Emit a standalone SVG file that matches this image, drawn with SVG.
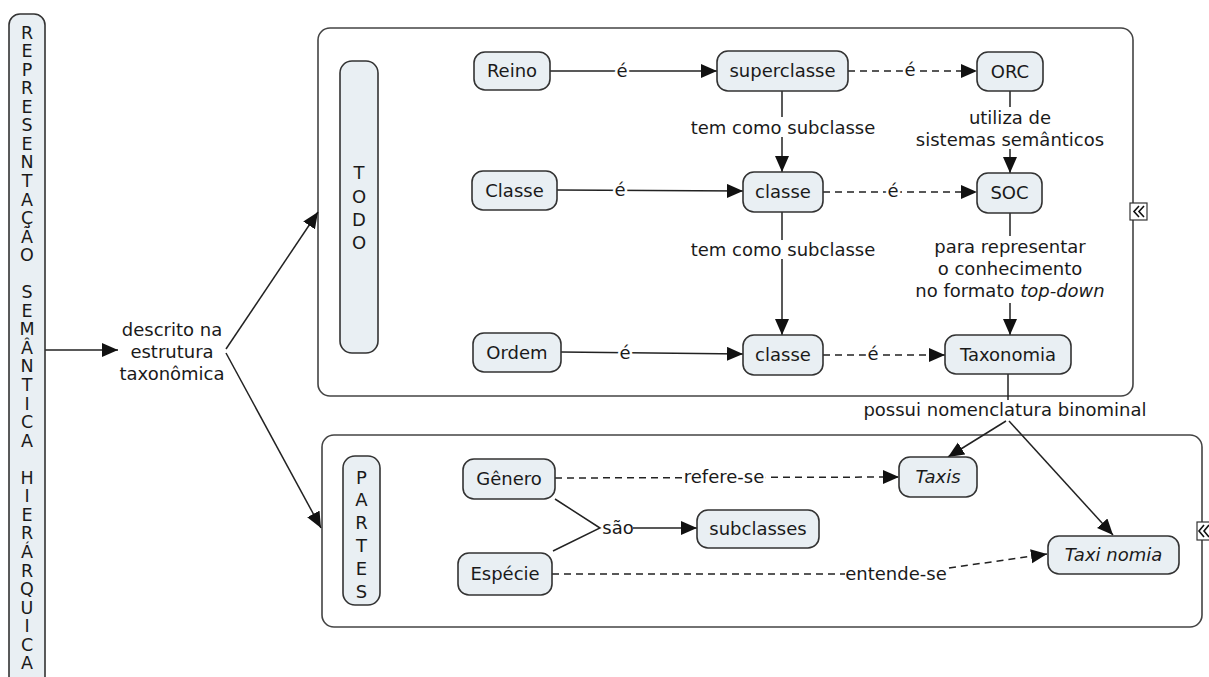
<svg xmlns="http://www.w3.org/2000/svg" width="1209" height="677" viewBox="0 0 1209 677">
<defs>
<style>
text{font-family:"DejaVu Sans","Verdana",sans-serif;font-size:18px;fill:#1a1a1a;}
.c{text-anchor:middle;}
.it{font-style:italic;}
.node{fill:#e9eff3;stroke:#333;stroke-width:1.6;}
.cont{fill:#fff;stroke:#444;stroke-width:1.6;}
.ln{fill:none;stroke:#222;stroke-width:1.5;}
.ds{fill:none;stroke:#222;stroke-width:1.5;stroke-dasharray:7 5;}
.lbl{paint-order:stroke;stroke:#fff;stroke-width:5px;stroke-linejoin:round;}
.vl{font-size:17.5px;}
</style>
<marker id="ar" markerUnits="userSpaceOnUse" markerWidth="17" markerHeight="15" refX="16" refY="7" orient="auto">
<path d="M0,0 L16,7 L0,14 z" fill="#111"/>
</marker>
</defs>
<rect width="1209" height="677" fill="#fff"/>

<g id="containers">
<g id="todo-box"><rect class="cont" x="318" y="28" width="815" height="368" rx="12"/></g>
<g id="partes-box"><rect class="cont" x="322" y="435" width="880" height="192" rx="12"/></g>
<g id="icons">
<rect x="1130" y="203" width="17" height="17" fill="#fff" stroke="#333" stroke-width="1.2"/>
<polyline points="1139,206 1134,211.5 1139,217" fill="none" stroke="#111" stroke-width="1.6"/>
<polyline points="1144,206 1139,211.5 1144,217" fill="none" stroke="#111" stroke-width="1.6"/>
<rect x="1197" y="522" width="16" height="18" fill="#fff" stroke="#333" stroke-width="1.2"/>
<polyline points="1204,525 1199,531 1204,537" fill="none" stroke="#111" stroke-width="1.6"/>
<polyline points="1209,525 1204,531 1209,537" fill="none" stroke="#111" stroke-width="1.6"/>
</g>
</g>

<g id="connectors">
<line class="ln" x1="45" y1="350" x2="118" y2="350" marker-end="url(#ar)"/>
<line class="ln" x1="226" y1="349" x2="318" y2="212" marker-end="url(#ar)"/>
<line class="ln" x1="226" y1="353" x2="321" y2="528" marker-end="url(#ar)"/>

<line class="ln" x1="550" y1="71" x2="717" y2="71" marker-end="url(#ar)"/>
<text class="c lbl" x="622" y="77">é</text>
<line class="ln" x1="557" y1="190" x2="743" y2="191" marker-end="url(#ar)"/>
<text class="c lbl" x="620" y="196">é</text>
<line class="ln" x1="561" y1="352" x2="743" y2="354" marker-end="url(#ar)"/>
<text class="c lbl" x="625" y="359">é</text>

<line class="ds" x1="848" y1="71" x2="977" y2="71" marker-end="url(#ar)"/>
<text class="c lbl" x="910" y="76">é</text>
<line class="ds" x1="823" y1="192" x2="977" y2="192" marker-end="url(#ar)"/>
<text class="c lbl" x="893" y="197">é</text>
<line class="ds" x1="823" y1="355" x2="945" y2="355" marker-end="url(#ar)"/>
<text class="c lbl" x="873" y="360">é</text>

<line class="ln" x1="782" y1="91" x2="782" y2="117"/>
<text class="c" x="783" y="134">tem como subclasse</text>
<line class="ln" x1="782" y1="137" x2="782" y2="172" marker-end="url(#ar)"/>

<line class="ln" x1="782" y1="212" x2="782" y2="240"/>
<text class="c" x="783" y="256">tem como subclasse</text>
<line class="ln" x1="782" y1="259" x2="782" y2="335" marker-end="url(#ar)"/>

<line class="ln" x1="1010" y1="91" x2="1010" y2="107"/>
<text class="c" x="1010" y="124">utiliza de</text>
<text class="c" x="1010" y="146">sistemas semânticos</text>
<line class="ln" x1="1010" y1="149" x2="1010" y2="173" marker-end="url(#ar)"/>

<line class="ln" x1="1010" y1="213" x2="1010" y2="236"/>
<text class="c" x="1010" y="253">para representar</text>
<text class="c" x="1010" y="275">o conhecimento</text>
<text class="c" x="1010" y="297">no formato <tspan class="it">top-down</tspan></text>
<line class="ln" x1="1010" y1="303" x2="1010" y2="335" marker-end="url(#ar)"/>

<line class="ln" x1="1008" y1="374" x2="1008" y2="400"/>
<text class="c" x="1005" y="416">possui nomenclatura binominal</text>
<line class="ln" x1="1006" y1="421" x2="948" y2="457" marker-end="url(#ar)"/>
<line class="ln" x1="1009" y1="421" x2="1113" y2="535" marker-end="url(#ar)"/>

<line class="ds" x1="555" y1="478" x2="899" y2="477" marker-end="url(#ar)"/>
<text class="c lbl" x="724" y="483">refere-se</text>

<line class="ds" x1="552" y1="574" x2="845" y2="574"/>
<text class="c" x="896" y="580">entende-se</text>
<line class="ds" x1="949" y1="568" x2="1047" y2="554" marker-end="url(#ar)"/>

<polyline class="ln" points="555,499 600,528 553,551"/>
<text class="c" x="618" y="534">são</text>
<line class="ln" x1="633" y1="528" x2="697" y2="528" marker-end="url(#ar)"/>
</g>

<g id="n-rep">
<rect class="node" x="9" y="14" width="36" height="690" rx="11"/>
<text class="c vl"><tspan x="27" y="38.5">R</tspan><tspan x="27" y="57">E</tspan><tspan x="27" y="75.6">P</tspan><tspan x="27" y="94.2">R</tspan><tspan x="27" y="112.7">E</tspan><tspan x="27" y="131.3">S</tspan><tspan x="27" y="149.8">E</tspan><tspan x="27" y="168.4">N</tspan><tspan x="27" y="186.9">T</tspan><tspan x="27" y="205.5">A</tspan><tspan x="27" y="224">Ç</tspan><tspan x="27" y="242.6">Ã</tspan><tspan x="27" y="261.1">O</tspan><tspan x="27" y="298.2">S</tspan><tspan x="27" y="316.8">E</tspan><tspan x="27" y="335.3">M</tspan><tspan x="27" y="353.9">Â</tspan><tspan x="27" y="372.4">N</tspan><tspan x="27" y="391">T</tspan><tspan x="27" y="409.5">I</tspan><tspan x="27" y="428">C</tspan><tspan x="27" y="446.6">A</tspan><tspan x="27" y="483.7">H</tspan><tspan x="27" y="502.3">I</tspan><tspan x="27" y="520.8">E</tspan><tspan x="27" y="539.4">R</tspan><tspan x="27" y="557.9">Á</tspan><tspan x="27" y="576.5">R</tspan><tspan x="27" y="595">Q</tspan><tspan x="27" y="613.6">U</tspan><tspan x="27" y="632.1">I</tspan><tspan x="27" y="650.7">C</tspan><tspan x="27" y="669.2">A</tspan></text>
</g>

<g id="n-descrito">
<text class="c" x="172" y="336">descrito na</text>
<text class="c" x="172" y="358">estrutura</text>
<text class="c" x="172" y="380">taxonômica</text>
</g>

<g id="n-todo">
<rect class="node" x="340" y="61" width="38" height="292" rx="12"/>
<text class="c"><tspan x="359" y="179">T</tspan><tspan x="359" y="202.5">O</tspan><tspan x="359" y="226">D</tspan><tspan x="359" y="249">O</tspan></text>
</g>
<g id="n-reino"><rect class="node" x="474" y="52" width="76" height="38" rx="11"/><text class="c" x="512" y="77">Reino</text></g>
<g id="n-classe-l"><rect class="node" x="472" y="171" width="85" height="39" rx="11"/><text class="c" x="514.5" y="196.5">Classe</text></g>
<g id="n-ordem"><rect class="node" x="473" y="333" width="88" height="39" rx="11"/><text class="c" x="517" y="358.5">Ordem</text></g>
<g id="n-superclasse"><rect class="node" x="717" y="51" width="131" height="40" rx="11"/><text class="c" x="782.5" y="77">superclasse</text></g>
<g id="n-classe-m"><rect class="node" x="743" y="172" width="80" height="40" rx="11"/><text class="c" x="783" y="198">classe</text></g>
<g id="n-classe-b"><rect class="node" x="743" y="335" width="80" height="40" rx="11"/><text class="c" x="783" y="361">classe</text></g>
<g id="n-orc"><rect class="node" x="977" y="52" width="66" height="39" rx="11"/><text class="c" x="1010" y="78">ORC</text></g>
<g id="n-soc"><rect class="node" x="977" y="173" width="65" height="40" rx="11"/><text class="c" x="1009.5" y="199">SOC</text></g>
<g id="n-taxonomia"><rect class="node" x="945" y="335" width="126" height="39" rx="11"/><text class="c" x="1008" y="361">Taxonomia</text></g>

<g id="n-partes">
<rect class="node" x="343" y="456" width="37" height="149" rx="12"/>
<text class="c"><tspan x="361.5" y="483.5">P</tspan><tspan x="361.5" y="506.3">A</tspan><tspan x="361.5" y="529.1">R</tspan><tspan x="361.5" y="551.9">T</tspan><tspan x="361.5" y="574.7">E</tspan><tspan x="361.5" y="597.5">S</tspan></text>
</g>
<g id="n-genero"><rect class="node" x="463" y="459" width="92" height="40" rx="11"/><text class="c" x="509" y="485">Gênero</text></g>
<g id="n-especie"><rect class="node" x="458" y="553" width="94" height="42" rx="11"/><text class="c" x="505" y="580">Espécie</text></g>
<g id="n-subclasses"><rect class="node" x="697" y="510" width="122" height="38" rx="11"/><text class="c" x="758" y="535">subclasses</text></g>
<g id="n-taxis"><rect class="node" x="899" y="457" width="78" height="40" rx="11"/><text class="c it" x="938" y="483">Taxis</text></g>
<g id="n-taxinomia"><rect class="node" x="1048" y="536" width="131" height="38" rx="11"/><text class="c it" x="1113.5" y="561">Taxi nomia</text></g>
</svg>
